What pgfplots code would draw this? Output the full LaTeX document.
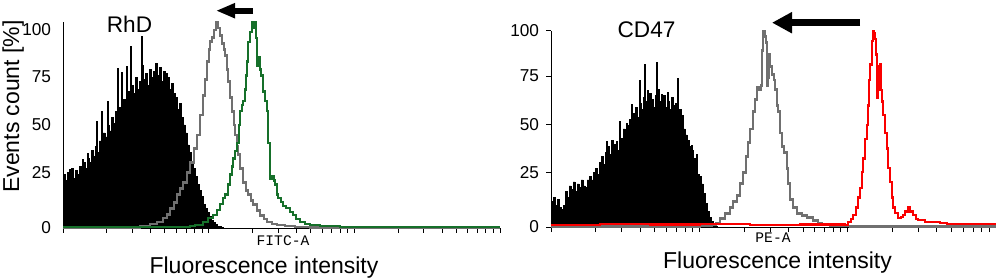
\documentclass[border=0pt]{standalone}
\usepackage{pgfplots}
\pgfplotsset{compat=1.18}
\usepackage{fontspec}
\setmainfont{Liberation Sans}
\newfontfamily\monofont{Liberation Mono}
\usetikzlibrary{arrows.meta}
\definecolor{hgray}{RGB}{112,112,112}
\definecolor{hgreen}{RGB}{22,112,42}
\definecolor{hred}{RGB}{250,0,0}
\pgfplotsset{
  facs/.style={
    scale only axis, axis lines=left, axis line style={-, line width=0.5bp},
    ymin=0, xmin=0, clip=false,
    xticklabels={}, tick align=outside, major tick length=2.5bp,
    tick style={line width=0.5bp, black},
    yticklabels={0,25,50,75,100},
    tick label style={font=\fontsize{8.6bp}{9bp}\selectfont},
    /pgf/number format/assume math mode=true,
  }
}
\begin{document}
\begin{tikzpicture}
\path[use as bounding box] (0,0) rectangle (498bp,140bp);
% ---------------- left panel (RhD)
\begin{axis}[facs, at={(31.5bp,26bp)}, anchor=south west,
  width=218.5bp, height=103bp, xmax=437, ymax=104,
  xtick={0,43.9,69.5,87.7,101.8,113.4,123.1,131.6,139.0,145.7,189.6,215.2,233.4,247.5,259.0,268.8,277.2,284.7,291.3,335.2,360.8,379.0,393.1,404.7,414.4,422.9,430.3,437},
  ytick={0,27.8,52,76.3,100},
  ytick style={draw=none}]
\addplot[const plot, fill=black, draw=black, line width=0.3bp] coordinates {
(0,27)(2,24)(4,28)(6,26)(8,30)(10,25)(12,29)(14,27)(16,31)(18,28)(20,33)(22,30)(24,35)(26,33)(28,39)(30,36)(32,41)(34,38)(36,44)(38,42)(40,48)(42,46)(44,52)(46,49)(48,56)(50,53)(52,59)(54,55)(56,61)(58,57)(60,65)(62,62)(64,69)(66,64)(68,72)(70,68)(72,76)(74,70)(76,74)(78,82)(80,75)(82,78)(84,72)(86,80)(88,76)(90,79)(92,83)(94,77)(96,81)(98,74)(100,79)(102,78)(104,76)(106,70)(108,73)(110,68)(112,66)(114,60)(116,63)(118,56)(120,52)(122,48)(124,42)(126,38)(128,33)(130,30)(132,26)(134,22)(136,19)(138,16)(140,12)(142,10)(144,8)(146,6)(148,4)(150,3)(152,2)(154,1)(156,1)(158,0.5)(160,0.5)
} \closedcycle;
\addplot[ycomb, draw=black, mark=none, line width=1bp] coordinates {
(7,30)(20,35)(25,38)(34,54)(39,59)(45,64)(55,81)(59,79)(64,82)(68,92)(74,76)(79,97)(89,72)(94,62)(99,43)
};
\addplot[const plot, hgray, line width=1.4bp] coordinates {
(0,0.3)(77,1)(87,2)(94,3)(100,5)(104,7)(107,10)(111,13)(114,17)(117,20)(120,23)(124,28)(127,33)(131,40)(134,47)(137,57)(140,67)(142,75)(144,84)(146,90)(147,94)(149,96)(151,100)(153,104)(155,101)(157,97)(159,93)(161,90)(162,87)(164,80)(165,74)(167,66)(169,59)(171,52)(172,47)(174,41)(175,37)(177,30)(180,23)(183,19)(185,17)(188,14)(190,12)(194,9)(197,6.5)(201,4.5)(204,3)(209,2)(214,1.5)(222,1)(232,0.5)(247,0.3)(437,0.3)
};
\addplot[const plot, hgreen, line width=1.2bp] coordinates {
(0,0.5)(117,0.5)(127,1)(132,1.5)(140,3)(145,5)(150,6.5)(154,9)(157,12)(160,15)(162,17)(165,22)(167,27)(169,31)(170,35)(172,39)(174,43)(176,52)(177,59)(179,62)(180,64)(182,70)(183,77)(184,84)(185,94)(187,99)(189,104)(191,101)(192,104)(193,96)(194,82)(195,86)(197,80)(198,77)(200,69)(202,64)(204,59)(205,43)(207,25)(209,26)(211,24)(212,22)(214,17)(215,15)(218,13)(220,11)(223,10)(225,10)(227,8)(230,6.5)(233,4.5)(237,3)(242,2)(247,1.5)(257,1)(277,0.6)(437,0.6)
};
\end{axis}
% ---------------- right panel (CD47)
\begin{axis}[facs, at={(275.5bp,26.5bp)}, anchor=south west,
  width=222.5bp, height=98bp, xmax=445, ymax=100,
  xtick={0,44.7,70.8,89.3,103.7,115.4,125.4,134.0,141.5,148.3,193.0,219.1,237.6,252.0,263.7,273.7,282.3,289.9,296.7,341.3,367.4,385.9,400.4,412.1,422.0,430.6,438.2,445},
  ytick={0,28,52.5,77,100}]
\addplot[const plot, fill=black, draw=black, line width=0.3bp] coordinates {
(0,13)(2,15)(4,11)(6,14)(8,10)(10,9)(12,11)(14,18)(16,15)(18,21)(20,19)(22,23)(24,18)(26,22)(28,20)(30,24)(32,21)(34,20)(36,24)(38,26)(40,24)(42,28)(44,30)(46,27)(48,33)(50,36)(52,32)(54,38)(56,41)(58,37)(60,44)(62,42)(64,38)(66,39)(68,41)(70,45)(72,50)(74,47)(76,52)(78,55)(80,50)(82,58)(84,61)(86,56)(88,63)(90,60)(92,66)(94,64)(96,62)(98,68)(100,65)(102,61)(104,67)(106,70)(108,64)(110,63)(112,67)(114,61)(116,64)(118,60)(120,66)(122,62)(124,63)(126,59)(128,60)(130,57)(132,50)(134,47)(136,44)(138,41)(140,39)(142,35)(144,32)(146,27)(148,26)(150,22)(152,17)(154,12)(156,8)(158,5)(160,3)(162,1.5)(164,0.5)(166,0)
} \closedcycle;
\addplot[ycomb, draw=black, mark=none, line width=1bp] coordinates {
(56,44)(66,44)(69,54)(76,53)(81,63)(89,75)(94,83)(97,70)(106,84)(111,68)(117,69)(124,62)(127,76)(132,57)(141,42)(146,37)
};
\addplot[const plot, hgray, line width=1.4bp] coordinates {
(0,0.3)(149,0.5)(161,1)(165,2)(169,4.5)(174,7)(179,10)(182,13)(186,16)(189,22)(192,28)(195,36)(197,43)(199,50)(202,59)(204,65)(206,71)(208,70)(210,72)(211,90)(212,100)(214,97)(215,94)(216,72)(217,76)(218,88)(219,82)(221,78)(223,75)(224,70)(226,62)(227,59)(229,48)(231,41)(233,38)(236,30)(237,22)(239,14)(242,10)(246,7)(251,6)(256,5)(262,3.5)(267,2)(271,1)(279,0.5)(299,0.3)(445,0.3)
};
\addplot[const plot, hred, line width=1.2bp] coordinates {
(0,1)(49,1.5)(99,1.2)(149,1.5)(199,1)(249,1.2)(294,1)(297,2.5)(300,4)(302,6)(305,10)(307,15)(309,20)(311,28)(312,35)(314,45)(316,52)(317,62)(318,75)(319,83)(321,95)(322,100)(323,99)(324,96)(325,88)(326,66)(327,70)(328,82)(329,83)(330,70)(331,64)(332,57)(334,48)(336,40)(337,30)(339,23)(341,15)(342,10)(344,7)(347,4.6)(350,5)(352,6)(354,8)(357,10)(359,8)(362,6)(365,4)(367,3.5)(374,2.5)(382,2.5)(389,2)(396,1.5)(445,1.5)
};
\end{axis}
% ---------------- labels and arrows
\node[rotate=90, anchor=base, inner sep=0pt, font=\fontsize{11.5bp}{13bp}\selectfont] at (9.5bp,86.75bp) {Events count [\%]};
\node[anchor=base, inner sep=0pt, font=\fontsize{11.5bp}{13bp}\selectfont] at (132bp,3.5bp) {Fluorescence intensity};
\node[anchor=base, inner sep=0pt, font=\fontsize{11.5bp}{13bp}\selectfont] at (388.75bp,6bp) {Fluorescence intensity};
\node[anchor=base, inner sep=0pt, font=\monofont\fontsize{7.3bp}{8bp}\selectfont] at (141.5bp,17.5bp) {FITC-A};
\node[anchor=base, inner sep=0pt, font=\monofont\fontsize{7.3bp}{8bp}\selectfont] at (386.5bp,19bp) {PE-A};
\node[anchor=base, inner sep=0pt, font=\fontsize{11.3bp}{13bp}\selectfont] at (64.75bp,123.5bp) {RhD};
\node[anchor=base, inner sep=0pt, font=\fontsize{11.3bp}{13bp}\selectfont] at (323.25bp,121bp) {CD47};
\draw[line width=3bp, -{Triangle[length=9.5bp,width=7bp]}] (126.5bp,134.65bp) -- (108bp,134.65bp);
\draw[line width=3.5bp, -{Triangle[length=10bp,width=10bp]}] (430bp,128.65bp) -- (386bp,128.65bp);
\end{tikzpicture}
\end{document}
